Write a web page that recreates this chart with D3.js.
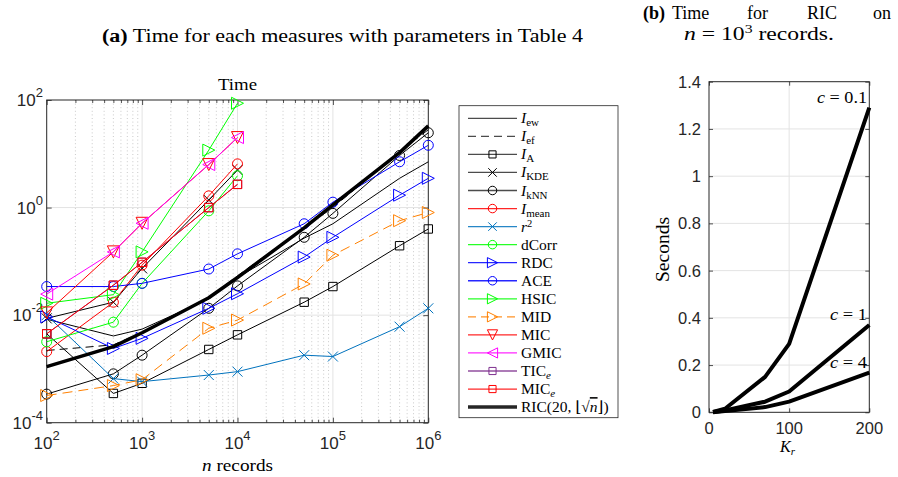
<!DOCTYPE html>
<html><head><meta charset="utf-8">
<script src="https://cdn.jsdelivr.net/npm/d3@7"></script>
<style>body{margin:0;background:#fff} svg{display:block}</style>
</head><body><svg id="c" width="898" height="477"></svg>
<script>
// ---------- data (panel a) ----------
const nRecords = [1e2, 5e2, 1e3, 5e3, 1e4, 5e4, 1e5, 5e5, 1e6];
const tIew   = [0.0084, 0.0041, 0.0055, 0.02, 0.05, 0.27, 0.5, 3.5, 7.1];
const tIef   = [0.0022, 0.0028, 0.0048, 0.021, 0.054, 0.42, 1.0, 11, 28];
const tIA    = [0.0045, 0.00035, 0.00054, 0.0023, 0.0043, 0.0174, 0.034, 0.195, 0.40];
const tIKDE  = [0.0087, 0.0174, 0.074, 1.38, 5.0];
const tIkNN  = [0.00034, 0.00081, 0.0018, 0.0134, 0.035, 0.28, 0.78, 9.3, 24.6];
const tImean = [0.0021, 0.0174, 0.085, 1.65, 6.5];
const tR2    = [0.0100, 0.00066, 0.00058, 0.00077, 0.00089, 0.0018, 0.0017, 0.0061, 0.0134];
const tDCorr = [0.0032, 0.0074, 0.039, 0.87, 3.9];
const tRDC   = [0.0093, 0.0024, 0.0037, 0.0134, 0.025, 0.12, 0.28, 1.7, 3.5];
const tACE   = [0.034, 0.034, 0.039, 0.072, 0.138, 0.50, 1.26, 7.1, 14.4];
const tHSIC  = [0.0166, 0.024, 0.15, 11.7, 87];
const tMID   = [0.00032, 0.00049, 0.00063, 0.0057, 0.0081, 0.038, 0.13, 0.57, 0.81];
const tMIC   = [0.011, 0.15, 0.51, 6.3, 20];
const tGMIC  = [0.0246, 0.15, 0.51, 6.3, 20];
const tTICe  = [0.0045, 0.036, 0.096, 1.0, 2.7];
const tMICe  = [0.0045, 0.036, 0.096, 1.0, 2.7];
const tRIC   = [0.0011, 0.0026, 0.0047, 0.021, 0.05, 0.42, 1.12, 10.5, 33];
const xTicksA = [1e2, 1e3, 1e4, 1e5, 1e6];
const yTicksA = [1e-4, 1e-2, 1e0, 1e2];

// ---------- data (panel b) ----------
const kR      = [5, 20, 70, 100, 200];
const secC01  = [0.002, 0.015, 0.15, 0.29, 1.29];
const secC1   = [0.001, 0.008, 0.045, 0.088, 0.37];
const secC4   = [0.0005, 0.005, 0.022, 0.045, 0.168];
const xTicksB = [0, 100, 200];
const yTicksB = [0, 0.2, 0.4, 0.6, 0.8, 1, 1.2, 1.4];

const svg = d3.select('#c');
const SERIF = "'Liberation Serif','DejaVu Serif',serif";
const SANS = "'Liberation Sans',Arial,sans-serif";
const AX = '#262626';

const series = [
  {key:'ew',   v:tIew,   c:'#000', m:null, dash:null, lw:1},
  {key:'ef',   v:tIef,   c:'#000', m:null, dash:'8,5', lw:1},
  {key:'A',    v:tIA,    c:'#000', m:'s', dash:null, lw:1},
  {key:'KDE',  v:tIKDE,  c:'#000', m:'x', dash:null, lw:1},
  {key:'kNN',  v:tIkNN,  c:'#000', m:'o', dash:null, lw:1},
  {key:'mean', v:tImean, c:'#ff0000', m:'o', dash:null, lw:1},
  {key:'r2',   v:tR2,    c:'#0072bd', m:'x', dash:null, lw:1},
  {key:'dCorr',v:tDCorr, c:'#00ff00', m:'o', dash:null, lw:1},
  {key:'RDC',  v:tRDC,   c:'#0000ff', m:'>', dash:null, lw:1},
  {key:'ACE',  v:tACE,   c:'#0000ff', m:'o', dash:null, lw:1},
  {key:'HSIC', v:tHSIC,  c:'#00ff00', m:'>', dash:null, lw:1},
  {key:'MID',  v:tMID,   c:'#ff8000', m:'>', dash:'10,6', lw:1},
  {key:'MIC',  v:tMIC,   c:'#ff0000', m:'v', dash:null, lw:1},
  {key:'GMIC', v:tGMIC,  c:'#ff00ff', m:'<', dash:null, lw:1},
  {key:'TICe', v:tTICe,  c:'#7e2f8e', m:'s', dash:null, lw:1},
  {key:'MICe', v:tMICe,  c:'#ff0000', m:'s', dash:null, lw:1},
  {key:'RIC',  v:tRIC,   c:'#000', m:null, dash:null, lw:3.5},
];

function markerPath(t, r){
  switch(t){
    case 's': return `M${-r},${-r}H${r}V${r}H${-r}Z`;
    case 'o': return `M${r},0A${r},${r} 0 1,1 ${-r},0A${r},${r} 0 1,1 ${r},0Z`;
    case 'x': return `M${-r},${-r}L${r},${r}M${-r},${r}L${r},${-r}`;
    case '>': return `M${r},0L${-r},${-r}L${-r},${r}Z`;
    case '<': return `M${-r},0L${r},${-r}L${r},${r}Z`;
    case 'v': return `M0,${r}L${-r},${-r}L${r},${-r}Z`;
  }
}
const mSize = {s:4.2, o:5, x:5, '>':6, '<':6, 'v':6};

// ---------- panel (a) ----------
const L = {l:46.7, r:428.3, t:100, b:422.7};
const x = d3.scaleLog().domain([1e2,1e6]).range([L.l, L.r]);
const y = d3.scaleLog().domain([1e-4,1e2]).range([L.b, L.t]);
const ga = svg.append('g');

const minorX = [];
for (let e=2;e<6;e++) for (let k=2;k<=9;k++) minorX.push(k*Math.pow(10,e));
ga.selectAll('line.mg').data(minorX).enter().append('line')
  .attr('x1',d=>x(d)).attr('x2',d=>x(d)).attr('y1',L.t).attr('y2',L.b)
  .attr('stroke','#bdbdbd').attr('stroke-width',0.8).attr('stroke-dasharray','1,2.6');
ga.selectAll('line.gx').data(xTicksA.slice(1,-1)).enter().append('line')
  .attr('x1',d=>x(d)).attr('x2',d=>x(d)).attr('y1',L.t).attr('y2',L.b)
  .attr('stroke','#e3e3e3').attr('stroke-width',1);
ga.selectAll('line.gy').data(yTicksA.slice(1,-1)).enter().append('line')
  .attr('y1',d=>y(d)).attr('y2',d=>y(d)).attr('x1',L.l).attr('x2',L.r)
  .attr('stroke','#e3e3e3').attr('stroke-width',1);

const axB = ga.append('g').attr('transform',`translate(0,${L.b})`)
  .call(d3.axisBottom(x).tickValues(xTicksA).tickSize(-5).tickFormat(''));
const axT = ga.append('g').attr('transform',`translate(0,${L.t})`)
  .call(d3.axisTop(x).tickValues(xTicksA).tickSize(-5).tickFormat(''));
const axBm = ga.append('g').attr('transform',`translate(0,${L.b})`)
  .call(d3.axisBottom(x).tickValues(minorX).tickSize(-3).tickFormat(''));
const axTm = ga.append('g').attr('transform',`translate(0,${L.t})`)
  .call(d3.axisTop(x).tickValues(minorX).tickSize(-3).tickFormat(''));
const axL = ga.append('g').attr('transform',`translate(${L.l},0)`)
  .call(d3.axisLeft(y).tickValues(yTicksA).tickSize(-5).tickFormat(''));
const axR = ga.append('g').attr('transform',`translate(${L.r},0)`)
  .call(d3.axisRight(y).tickValues(yTicksA).tickSize(-5).tickFormat(''));
[axB,axT,axBm,axTm,axL,axR].forEach(a=>{a.select('.domain').remove(); a.selectAll('line').attr('stroke',AX).attr('stroke-width',0.8);});
ga.append('rect').attr('x',L.l).attr('y',L.t).attr('width',L.r-L.l).attr('height',L.b-L.t)
  .attr('fill','none').attr('stroke',AX).attr('stroke-width',1);

const exp = d=>Math.round(Math.log10(d));
xTicksA.forEach(d=>{
  const t = ga.append('text').attr('x',x(d)).attr('y',449).attr('text-anchor','middle')
    .attr('font-family',SANS).attr('font-size',17).attr('fill',AX);
  t.append('tspan').text('10');
  t.append('tspan').attr('dy',-9).attr('font-size',13).text(exp(d));
});
yTicksA.forEach(d=>{
  const t = ga.append('text').attr('x',43).attr('y',y(d)+6).attr('text-anchor','end')
    .attr('font-family',SANS).attr('font-size',17).attr('fill',AX);
  t.append('tspan').text('10');
  t.append('tspan').attr('dy',-9).attr('font-size',13).text(exp(d)<0?'-'+(-exp(d)):exp(d));
});
ga.append('text').attr('x',218).attr('y',90).attr('textLength',39).attr('lengthAdjust','spacingAndGlyphs')
  .attr('font-family',SERIF).attr('font-size',17).attr('fill','#000').text('Time');
const xl = ga.append('text').attr('x',202).attr('y',471).attr('textLength',71).attr('lengthAdjust','spacingAndGlyphs')
  .attr('font-family',SERIF).attr('font-size',17).attr('fill','#000');
xl.append('tspan').attr('font-style','italic').text('n');
xl.append('tspan').text(' records');

const line = d3.line().x((d,i)=>x(nRecords[i])).y(d=>y(d));
svg.append('defs').append('clipPath').attr('id','clipA')
  .append('rect').attr('x',L.l-8).attr('y',L.t-8).attr('width',L.r-L.l+16).attr('height',L.b-L.t+16);
const gl = ga.append('g').attr('clip-path','url(#clipA)');
series.forEach(s=>{
  gl.append('path').attr('d',line(s.v)).attr('fill','none').attr('stroke',s.c)
    .attr('stroke-width',s.lw).attr('stroke-dasharray',s.dash).attr('stroke-linejoin','round');
  if (s.m){
    gl.selectAll(null).data(s.v).enter().append('path')
      .attr('transform',(d,i)=>`translate(${x(nRecords[i])},${y(d)})`)
      .attr('d',markerPath(s.m,mSize[s.m])).attr('fill','none').attr('stroke',s.c).attr('stroke-width',1);
  }
});

// legend
const lg = svg.append('g');
lg.append('rect').attr('x',459).attr('y',105.7).attr('width',159).attr('height',312)
  .attr('fill','#fff').attr('stroke',AX).attr('stroke-width',0.8);
const labels = [
  [['I','i'],['ew','sub']], [['I','i'],['ef','sub']], [['I','i'],['A','sub']], [['I','i'],['KDE','sub']],
  [['I','i'],['kNN','sub']], [['I','i'],['mean','sub']], [['r','i'],['2','sup']], [['dCorr','']],
  [['RDC','']], [['ACE','']], [['HSIC','']], [['MID','']], [['MIC','']], [['GMIC','']],
  [['TIC',''],['e','subi']], [['MIC',''],['e','subi']], [['RIC(20, ⌊√',''],['n','over'],['⌋)','']]
];
series.forEach((s,i)=>{
  const yy = 118.3 + i*18.05;
  lg.append('line').attr('x1',468).attr('x2',517).attr('y1',yy).attr('y2',yy)
    .attr('stroke',s.c).attr('stroke-width',s.lw===1?1.3:3.5).attr('stroke-dasharray',s.dash?'8,5':null)
    .attr('stroke-opacity',s.lw===1 && s.c==='#000'?0.7:0.85);
  if (s.m) lg.append('path').attr('transform',`translate(492.5,${yy})`)
    .attr('d',markerPath(s.m,mSize[s.m]*0.85)).attr('fill','none').attr('stroke',s.c).attr('stroke-width',1);
  const t = lg.append('text').attr('x',521).attr('y',yy+5).attr('font-family',SERIF).attr('font-size',15.5).attr('fill','#000');
  let shift = 0;
  labels[i].forEach(([str,kind])=>{
    const ts = t.append('tspan').text(str);
    let dy = 0;
    if (kind==='i') ts.attr('font-style','italic');
    if (kind==='sub' || kind==='subi'){ dy = 3; ts.attr('font-size',11); if(kind==='subi') ts.attr('font-style','italic'); }
    if (kind==='sup'){ dy = -5; ts.attr('font-size',10.5); }
    if (kind==='over'){ ts.attr('font-style','italic').attr('text-decoration','overline'); }
    ts.attr('dy', dy - shift); shift = dy;
  });
});

// caption (a)
const ca = svg.append('text').attr('x',102).attr('y',42).attr('textLength',481).attr('lengthAdjust','spacingAndGlyphs')
  .attr('font-family',SERIF).attr('font-size',18).attr('fill','#000');
ca.append('tspan').attr('font-weight','bold').text('(a)');
ca.append('tspan').text(' Time for each measures with parameters in Table 4');

// ---------- panel (b) ----------
const R = {l:709, r:869.3, t:81.7, b:412.3};
const xb = d3.scaleLinear().domain([0,200]).range([R.l,R.r]);
const yb = d3.scaleLinear().domain([0,1.4]).range([R.b,R.t]);
const gb = svg.append('g');
gb.selectAll('line.gx').data(xTicksB.slice(1,-1)).enter().append('line')
  .attr('x1',d=>xb(d)).attr('x2',d=>xb(d)).attr('y1',R.t).attr('y2',R.b).attr('stroke','#e3e3e3');
gb.selectAll('line.gy').data(yTicksB.slice(1,-1)).enter().append('line')
  .attr('y1',d=>yb(d)).attr('y2',d=>yb(d)).attr('x1',R.l).attr('x2',R.r).attr('stroke','#e3e3e3');
const bB = gb.append('g').attr('transform',`translate(0,${R.b})`).call(d3.axisBottom(xb).tickValues(xTicksB).tickSize(-4).tickFormat(''));
const bT = gb.append('g').attr('transform',`translate(0,${R.t})`).call(d3.axisTop(xb).tickValues(xTicksB).tickSize(-4).tickFormat(''));
const bL = gb.append('g').attr('transform',`translate(${R.l},0)`).call(d3.axisLeft(yb).tickValues(yTicksB).tickSize(-4).tickFormat(''));
const bR = gb.append('g').attr('transform',`translate(${R.r},0)`).call(d3.axisRight(yb).tickValues(yTicksB).tickSize(-4).tickFormat(''));
[bB,bT,bL,bR].forEach(a=>{a.select('.domain').remove(); a.selectAll('line').attr('stroke',AX).attr('stroke-width',0.8);});
gb.append('rect').attr('x',R.l).attr('y',R.t).attr('width',R.r-R.l).attr('height',R.b-R.t)
  .attr('fill','none').attr('stroke',AX).attr('stroke-width',1);
xTicksB.forEach(d=>gb.append('text').attr('x',xb(d)).attr('y',434).attr('text-anchor','middle')
  .attr('font-family',SANS).attr('font-size',16.5).attr('fill',AX).text(d));
yTicksB.forEach(d=>gb.append('text').attr('x',701).attr('y',yb(d)+6).attr('text-anchor','end')
  .attr('font-family',SANS).attr('font-size',16.5).attr('fill',AX).text(d3.format('~g')(d)));
const lineB = d3.line().x((d,i)=>xb(kR[i])).y(d=>yb(d));
[secC01,secC1,secC4].forEach(v=>{
  gb.append('path').attr('d',lineB(v)).attr('fill','none').attr('stroke','#000').attr('stroke-width',4).attr('stroke-linejoin','round');
});
const cLabels = [['0.1',secC01,50],['1',secC1,37],['4',secC4,37]];
cLabels.forEach(([c,v,w])=>{
  const t = gb.append('text').attr('x',867-w).attr('y',yb(v[v.length-1])-5)
    .attr('textLength',w).attr('lengthAdjust','spacingAndGlyphs')
    .attr('font-family',SERIF).attr('font-size',16).attr('fill','#000');
  t.append('tspan').attr('font-style','italic').text('c');
  t.append('tspan').text(' = '+c);
});
gb.append('text').attr('transform',`translate(669,282) rotate(-90)`).attr('textLength',65).attr('lengthAdjust','spacingAndGlyphs')
  .attr('font-family',SERIF).attr('font-size',18).attr('fill','#000').text('Seconds');
const kl = gb.append('text').attr('x',780).attr('y',452)
  .attr('font-family',SERIF).attr('font-size',16).attr('fill','#000');
kl.append('tspan').attr('font-style','italic').text('K');
kl.append('tspan').attr('font-style','italic').attr('font-size',11).attr('dy',3).text('r');

// caption (b)
const cb1 = svg.append('text').attr('y',19).attr('font-family',SERIF).attr('font-size',18).attr('fill','#000');
[['(b)',643,'bold'],['Time',672,null],['for',747,null],['RIC',807,null],['on',873,null]].forEach(([w,xx,fw])=>{
  cb1.append('tspan').attr('x',xx).attr('font-weight',fw).text(w);
});
const cb2 = svg.append('text').attr('x',684).attr('y',40).attr('textLength',150).attr('lengthAdjust','spacingAndGlyphs')
  .attr('font-family',SERIF).attr('font-size',18).attr('fill','#000');
cb2.append('tspan').attr('font-style','italic').text('n');
cb2.append('tspan').text(' = 10');
cb2.append('tspan').attr('dy',-7).attr('font-size',12).text('3');
cb2.append('tspan').attr('dy',7).text(' records.');
</script></body></html>
